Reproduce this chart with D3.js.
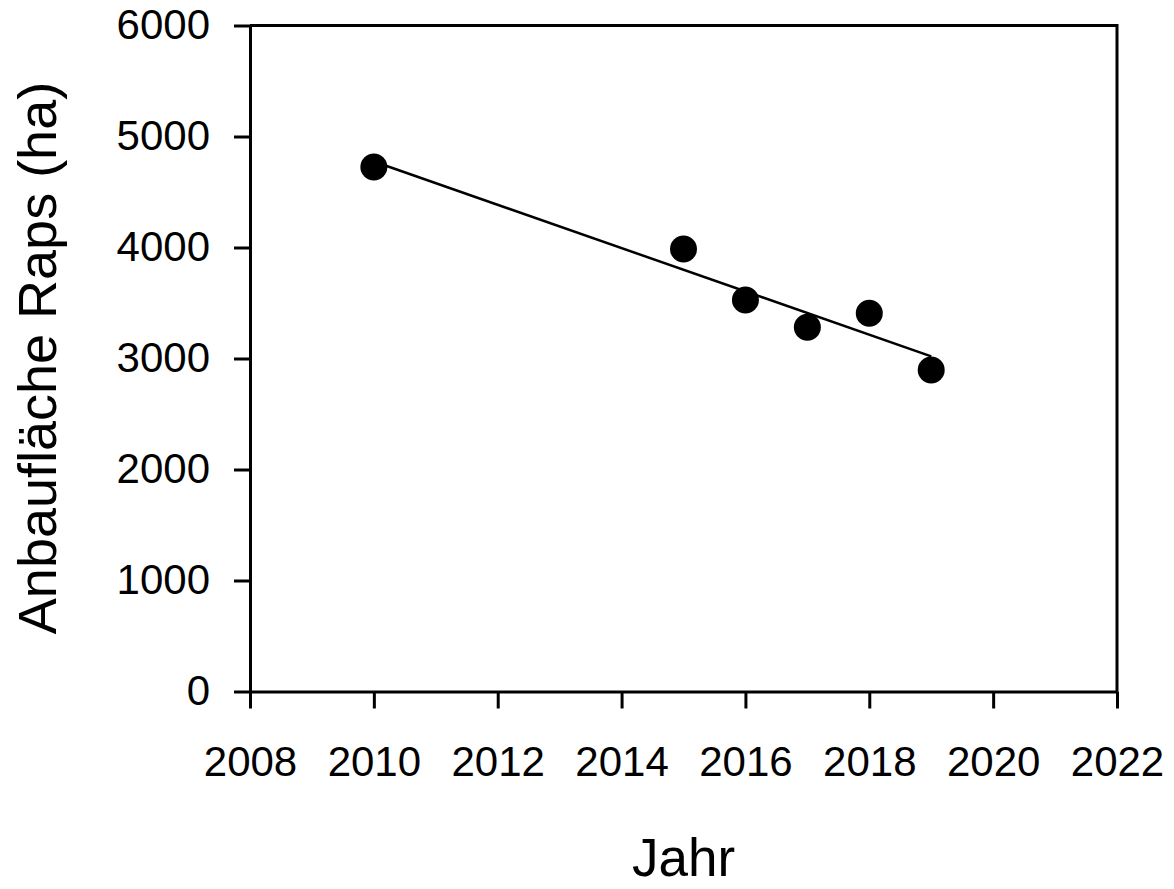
<!DOCTYPE html>
<html>
<head>
<meta charset="utf-8">
<script src="https://cdn.jsdelivr.net/npm/d3@7"></script>
<style>
  html, body { margin: 0; padding: 0; background: #fff; }
  svg { display: block; }
  text { font-family: "Liberation Sans", Arial, sans-serif; fill: #000; }
</style>
</head>
<body>
<svg id="chart" width="1174" height="889"></svg>
<script>
// Rapeseed cultivation area per year
const years = [2010, 2015, 2016, 2017, 2018, 2019];
const areaHa = [4725, 3986, 3527, 3281, 3407, 2896];
const xTicks = [2008, 2010, 2012, 2014, 2016, 2018, 2020, 2022];
const yTicks = [0, 1000, 2000, 3000, 4000, 5000, 6000];

const svg = d3.select("#chart");
const plotLeft = 250, plotRight = 1117, plotTop = 25.5, plotBottom = 691.5;

const x = d3.scaleLinear().domain([2008, 2022]).range([plotLeft, plotRight]);
const y = d3.scaleLinear().domain([0, 6000]).range([plotBottom, plotTop]);

// frame: top and right edges
svg.append("path")
  .attr("d", `M${plotLeft},${plotTop}H${plotRight}V${plotBottom}`)
  .attr("fill", "none").attr("stroke", "#000").attr("stroke-width", 3);

// y axis
const yAxis = svg.append("g")
  .attr("transform", `translate(${plotLeft},0)`)
  .call(d3.axisLeft(y).tickValues(yTicks).tickFormat(d3.format("d"))
    .tickSize(16).tickPadding(24).tickSizeOuter(0));
yAxis.select(".domain").attr("stroke-width", 3);
yAxis.selectAll(".tick line").attr("stroke-width", 3);
yAxis.selectAll("text").attr("font-size", 42).attr("font-family", "Liberation Sans, Arial, sans-serif");

// x axis
const xAxis = svg.append("g")
  .attr("transform", `translate(0,${plotBottom})`)
  .call(d3.axisBottom(x).tickValues(xTicks).tickFormat(d3.format("d"))
    .tickSize(17).tickPadding(38).tickSizeOuter(0));
xAxis.select(".domain").attr("stroke-width", 3);
xAxis.selectAll(".tick line").attr("stroke-width", 3);
xAxis.selectAll("text").attr("font-size", 42).attr("font-family", "Liberation Sans, Arial, sans-serif");

// least-squares trend line over the observed years
const mx = d3.mean(years), my = d3.mean(areaHa);
const sxy = d3.sum(years, (v, i) => (v - mx) * (areaHa[i] - my));
const sxx = d3.sum(years, v => (v - mx) * (v - mx));
const slope = sxy / sxx, intercept = my - slope * mx;
const x0 = d3.min(years), x1 = d3.max(years);
svg.append("line")
  .attr("x1", x(x0)).attr("y1", y(intercept + slope * x0))
  .attr("x2", x(x1)).attr("y2", y(intercept + slope * x1))
  .attr("stroke", "#000").attr("stroke-width", 2.5);

// data points
svg.selectAll("circle.pt")
  .data(years.map((yr, i) => ({ yr, v: areaHa[i] })))
  .join("circle")
  .attr("class", "pt")
  .attr("cx", d => x(d.yr))
  .attr("cy", d => y(d.v))
  .attr("r", 13.5)
  .attr("fill", "#000");

// axis titles
svg.append("text")
  .attr("x", (plotLeft + plotRight) / 2).attr("y", 876)
  .attr("text-anchor", "middle").attr("font-size", 53)
  .text("Jahr");

svg.append("text")
  .attr("transform", `translate(56,358) rotate(-90)`)
  .attr("text-anchor", "middle").attr("font-size", 54)
  .text("Anbaufläche Raps (ha)");
</script>
</body>
</html>
